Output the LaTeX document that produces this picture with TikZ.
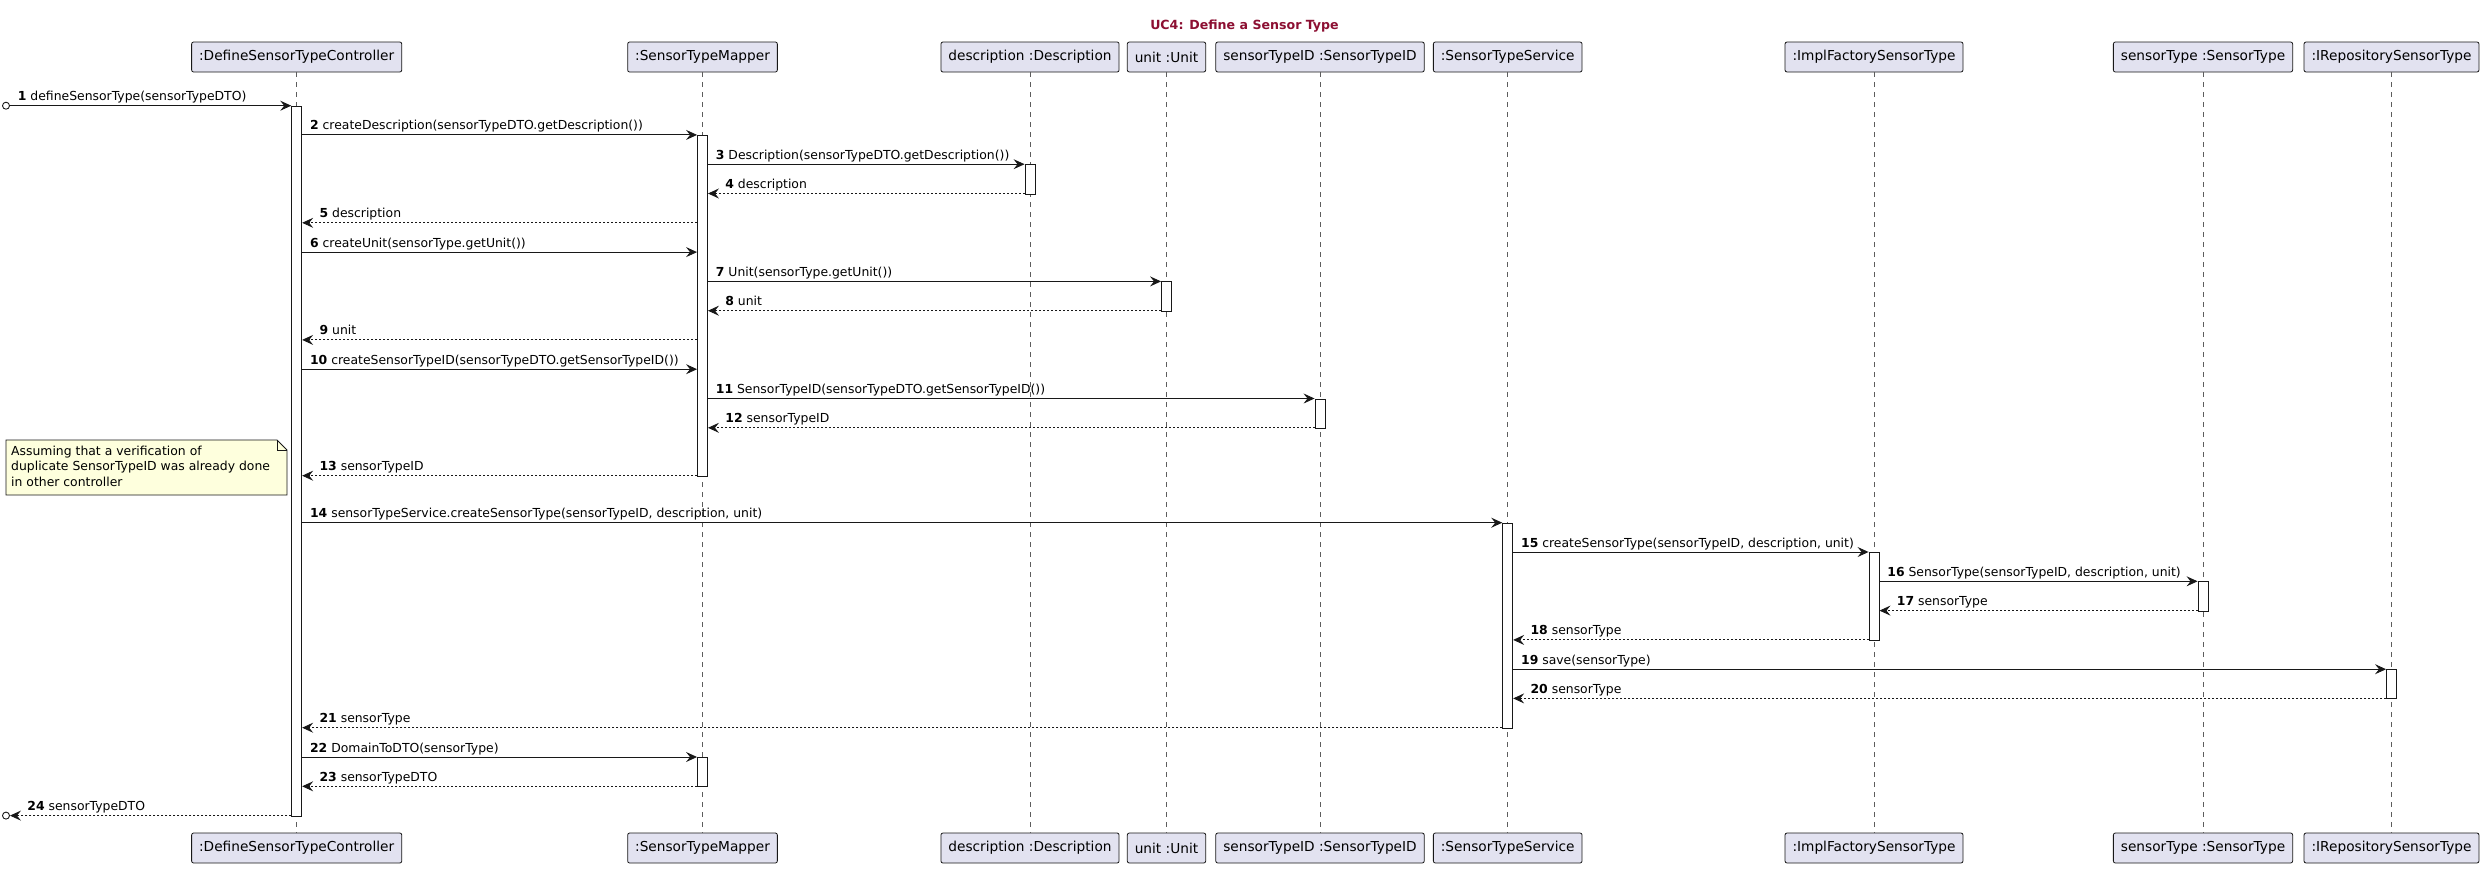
\documentclass[tikz,border=0pt]{standalone}
\usepackage{fontspec}
\setmainfont{DejaVu Sans}
\usetikzlibrary{arrows.meta}
\definecolor{ink}{HTML}{181818}
\definecolor{partfill}{HTML}{E2E2F0}
\definecolor{notefill}{HTML}{FEFFDD}
\definecolor{titlered}{RGB}{140,15,50}
\newcommand\msgfont{\fontsize{12.4}{15.5}\selectfont}
\newcommand\partfont{\fontsize{13.7}{16}\selectfont}

\begin{document}
\begin{tikzpicture}[x=1pt,y=-1pt,
  participant/.style={draw=ink, fill=partfill, line width=0.8pt, rounded corners=2pt,
    minimum height=30pt, inner xsep=7.5pt, inner ysep=0pt, font=\partfont},
  lifeline/.style={draw=ink!70, line width=0.7pt, dash pattern=on 5pt off 5pt},
  actbar/.style={draw=ink, fill=white, line width=0.9pt, minimum width=10pt,
    inner sep=0pt, anchor=north},
  call/.style={draw=ink, line width=0.9pt, -{Stealth[length=11pt,width=10pt,inset=4pt]}},
  reply/.style={call, dash pattern=on 2pt off 2pt},
  fwd/.style={anchor=base west, inner sep=0pt, font=\msgfont, pos=0, xshift=7.5pt, yshift=5pt},
  back/.style={anchor=base west, inner sep=0pt, font=\msgfont, pos=1, xshift=17pt, yshift=5pt},
  endpoint/.style={circle, draw=ink, line width=0.9pt, fill=white, minimum size=7pt, inner sep=0pt},
]
\useasboundingbox (0,0) rectangle (2484,868);

% title
\node[font=\bfseries\fontsize{12.6}{15}\selectfont, text=titlered, anchor=base]
  (title) at (1244.5,29) {UC4: Define a Sensor Type};

% participants (top and bottom heads) with their lifelines
\foreach \n/\x/\t in {
    C/296.7/{:DefineSensorTypeController},
    M/702.5/{:SensorTypeMapper},
    D/1030/{description :Description},
    U/1166.5/{unit :Unit},
    I/1320/{sensorTypeID :SensorTypeID},
    S/1507.7/{:SensorTypeService},
    F/1874/{:ImplFactorySensorType},
    T/2203/{sensorType :SensorType},
    R/2391.5/{:IRepositorySensorType}} {
  \node[participant] (h\n) at (\x,57) {\t};
  \node[participant] (f\n) at (\x,848) {\t};
  \draw[lifeline] (h\n.south) -- (f\n.north);
}

% activation bars
\node[actbar, minimum height=709.9pt] (aC)  at (296.7,105.7) {};
\node[actbar, minimum height=340.8pt] (aM1) at (702.5,134.9) {};
\node[actbar, minimum height=29.3pt]  (aD)  at (1030,164.2) {};
\node[actbar, minimum height=29.3pt]  (aU)  at (1166.5,281.4) {};
\node[actbar, minimum height=29.3pt]  (aI)  at (1320,398.5) {};
\node[actbar, minimum height=205pt]   (aS)  at (1507.7,522.7) {};
\node[actbar, minimum height=87.9pt]  (aF)  at (1874,552) {};
\node[actbar, minimum height=29.3pt]  (aT)  at (2203,581.3) {};
\node[actbar, minimum height=29.2pt]  (aR)  at (2391.5,669.2) {};
\node[actbar, minimum height=29.3pt]  (aM2) at (702.5,757) {};

% incoming and outgoing endpoints
\node[endpoint] (found) at (6,105.7) {};
\node[endpoint] (lost)  at (6,815.6) {};

% messages
\draw[call] (found) -- (aC.west |- found)
  node[fwd] {\textbf{1} defineSensorType(sensorTypeDTO)};
\draw[call] (aC.east |- 0,134.9) -- (aM1.west |- 0,134.9)
  node[fwd] {\textbf{2} createDescription(sensorTypeDTO.getDescription())};
\draw[call] (aM1.east |- 0,164.2) -- (aD.west |- 0,164.2)
  node[fwd] {\textbf{3} Description(sensorTypeDTO.getDescription())};
\draw[reply] (aD.west |- 0,193.5) -- (aM1.east |- 0,193.5)
  node[back] {\textbf{4} description};
\draw[reply] (aM1.west |- 0,222.8) -- (aC.east |- 0,222.8)
  node[back] {\textbf{5} description};
\draw[call] (aC.east |- 0,252.1) -- (aM1.west |- 0,252.1)
  node[fwd] {\textbf{6} createUnit(sensorType.getUnit())};
\draw[call] (aM1.east |- 0,281.4) -- (aU.west |- 0,281.4)
  node[fwd] {\textbf{7} Unit(sensorType.getUnit())};
\draw[reply] (aU.west |- 0,310.7) -- (aM1.east |- 0,310.7)
  node[back] {\textbf{8} unit};
\draw[reply] (aM1.west |- 0,339.9) -- (aC.east |- 0,339.9)
  node[back] {\textbf{9} unit};
\draw[call] (aC.east |- 0,369.2) -- (aM1.west |- 0,369.2)
  node[fwd] {\textbf{10} createSensorTypeID(sensorTypeDTO.getSensorTypeID())};
\draw[call] (aM1.east |- 0,398.5) -- (aI.west |- 0,398.5)
  node[fwd] {\textbf{11} SensorTypeID(sensorTypeDTO.getSensorTypeID())};
\draw[reply] (aI.west |- 0,427.8) -- (aM1.east |- 0,427.8)
  node[back] {\textbf{12} sensorTypeID};
\draw[reply] (aM1.west |- 0,475.7) -- (aC.east |- 0,475.7)
  node[back] {\textbf{13} sensorTypeID};
\draw[call] (aC.east |- 0,522.7) -- (aS.west |- 0,522.7)
  node[fwd] {\textbf{14} sensorTypeService.createSensorType(sensorTypeID, description, unit)};
\draw[call] (aS.east |- 0,552) -- (aF.west |- 0,552)
  node[fwd] {\textbf{15} createSensorType(sensorTypeID, description, unit)};
\draw[call] (aF.east |- 0,581.3) -- (aT.west |- 0,581.3)
  node[fwd] {\textbf{16} SensorType(sensorTypeID, description, unit)};
\draw[reply] (aT.west |- 0,610.6) -- (aF.east |- 0,610.6)
  node[back] {\textbf{17} sensorType};
\draw[reply] (aF.west |- 0,639.9) -- (aS.east |- 0,639.9)
  node[back] {\textbf{18} sensorType};
\draw[call] (aS.east |- 0,669.2) -- (aR.west |- 0,669.2)
  node[fwd] {\textbf{19} save(sensorType)};
\draw[reply] (aR.west |- 0,698.4) -- (aS.east |- 0,698.4)
  node[back] {\textbf{20} sensorType};
\draw[reply] (aS.west |- 0,727.7) -- (aC.east |- 0,727.7)
  node[back] {\textbf{21} sensorType};
\draw[call] (aC.east |- 0,757) -- (aM2.west |- 0,757)
  node[fwd] {\textbf{22} DomainToDTO(sensorType)};
\draw[reply] (aM2.west |- 0,786.3) -- (aC.east |- 0,786.3)
  node[back] {\textbf{23} sensorTypeDTO};
\draw[reply] (aC.west |- lost) -- (lost)
  node[back] {\textbf{24} sensorTypeDTO};

% note with folded corner
\draw[draw=ink, fill=notefill, line width=0.8pt]
  (6,440) -- (277,440) -- (287,450) -- (287,495) -- (6,495) -- cycle;
\draw[draw=ink, line width=0.8pt] (277,440) -- (277,450) -- (287,450);
\node[anchor=north west, align=left, font=\msgfont, inner sep=0pt] (note) at (11,445.5)
  {Assuming that a verification of\\duplicate SensorTypeID was already done\\in other controller};
\end{tikzpicture}
\end{document}
